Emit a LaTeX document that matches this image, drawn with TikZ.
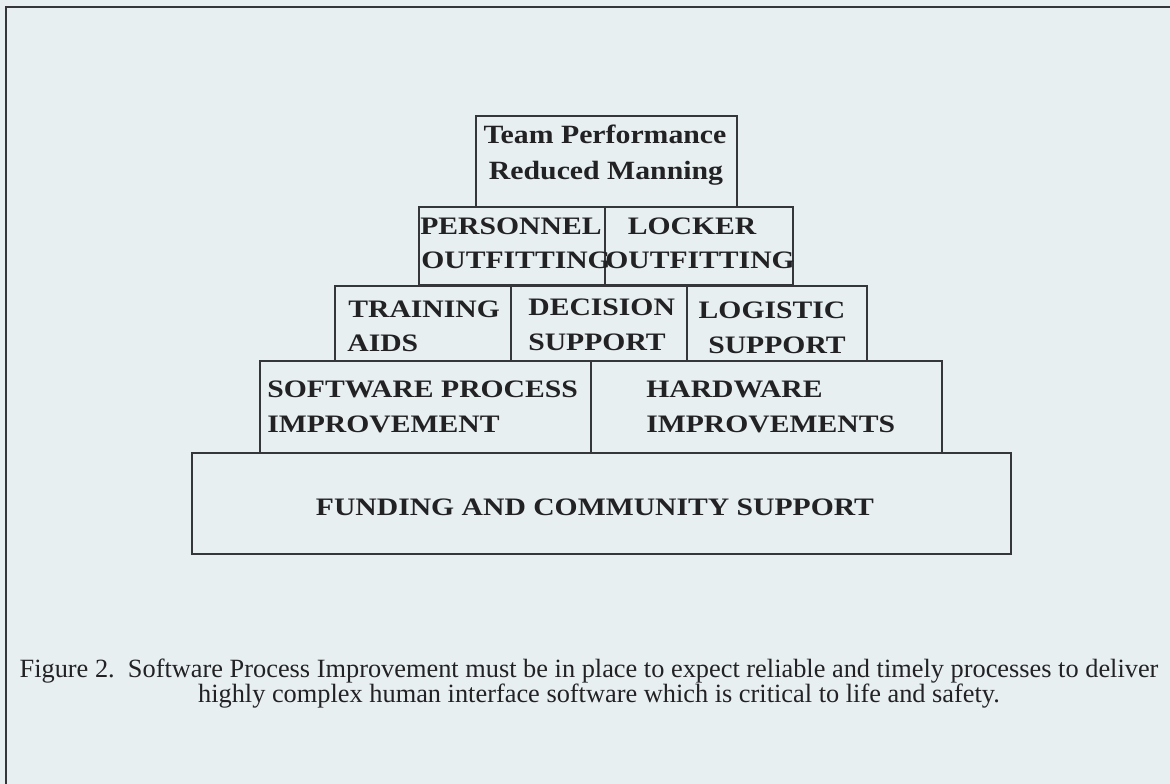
\documentclass[tikz,border=0pt]{standalone}
\usepackage{fontspec}
\setmainfont{Liberation Serif}
\newfontfamily\tierfont[FakeStretch=1.18]{Liberation Serif}
\newfontfamily\apexfont[FakeStretch=1.13]{Liberation Serif}
\definecolor{paper}{RGB}{232,239,241}
\definecolor{rule}{RGB}{52,54,58}
\definecolor{ink}{RGB}{34,34,36}
\begin{document}
\begin{tikzpicture}[x=0.02cm,y=-0.02cm,
  frameline/.style={line width=1.2pt, draw=rule},
  tier/.style={line width=0.8pt, draw=rule},
  lbl/.style={inner sep=0pt, text=ink, font=\tierfont\bfseries\fontsize{14.3}{17}\selectfont},
  toplbl/.style={inner sep=0pt, text=ink, font=\apexfont\bfseries\fontsize{15}{18}\selectfont},
  captext/.style={inner sep=0pt, text=ink, font=\fontsize{15}{18}\selectfont}]
  % page and open frame
  \fill[paper] (0,0) rectangle (1170,784);
  \useasboundingbox (0,0) rectangle (1170,784);
  \coordinate (fr-top) at (1170,7);
  \coordinate (fr-corner) at (6,7);
  \coordinate (fr-bottom) at (6,784);
  \draw[frameline] (fr-top) -- (fr-corner) -- (fr-bottom);

  % pyramid tiers
  \draw[tier] (476,116) rectangle (737,207);
  \draw[tier] (419,207) rectangle (605,285);
  \draw[tier] (605,207) rectangle (793,285);
  \draw[tier] (335,286) rectangle (511,361);
  \draw[tier] (511,286) rectangle (687,361);
  \draw[tier] (687,286) rectangle (867,361);
  \draw[tier] (260,361) rectangle (591,453);
  \draw[tier] (591,361) rectangle (942,453);
  \draw[tier] (192,453) rectangle (1011,554);

  % tier labels
  \node[toplbl, anchor=base] (team) at (605,144) {Team Performance};
  \node[toplbl, anchor=base] (manning) at (606,179) {Reduced Manning};
  \node[lbl, anchor=base west] (pers1) at (420,235) {PERSONNEL};
  \node[lbl, anchor=base west] (pers2) at (421,268) {OUTFITTING};
  \node[lbl, anchor=base] (lock1) at (692,235) {LOCKER};
  \node[lbl, anchor=base] (lock2) at (700,268) {OUTFITTING};
  \node[lbl, anchor=base west] (train1) at (348,317) {TRAINING};
  \node[lbl, anchor=base west] (train2) at (347,351) {AIDS};
  \node[lbl, anchor=base west] (dec1) at (528,315) {DECISION};
  \node[lbl, anchor=base west] (dec2) at (528,350) {SUPPORT};
  \node[lbl, anchor=base] (log1) at (772,318) {LOGISTIC};
  \node[lbl, anchor=base] (log2) at (777,353) {SUPPORT};
  \node[lbl, anchor=base west] (sw1) at (267,397) {SOFTWARE PROCESS};
  \node[lbl, anchor=base west] (sw2) at (267,432) {IMPROVEMENT};
  \node[lbl, anchor=base west] (hw1) at (646,397) {HARDWARE};
  \node[lbl, anchor=base west] (hw2) at (646,432) {IMPROVEMENTS};
  \node[lbl, anchor=base] (fund) at (595,515) {FUNDING AND COMMUNITY SUPPORT};

  % caption
  \node[captext, anchor=base] (cap1) at (589,677) {Figure 2.\ \ Software Process Improvement must be in place to expect reliable and timely processes to deliver};
  \node[captext, anchor=base] (cap2) at (599,702) {highly complex human interface software which is critical to life and safety.};
\end{tikzpicture}
\end{document}
